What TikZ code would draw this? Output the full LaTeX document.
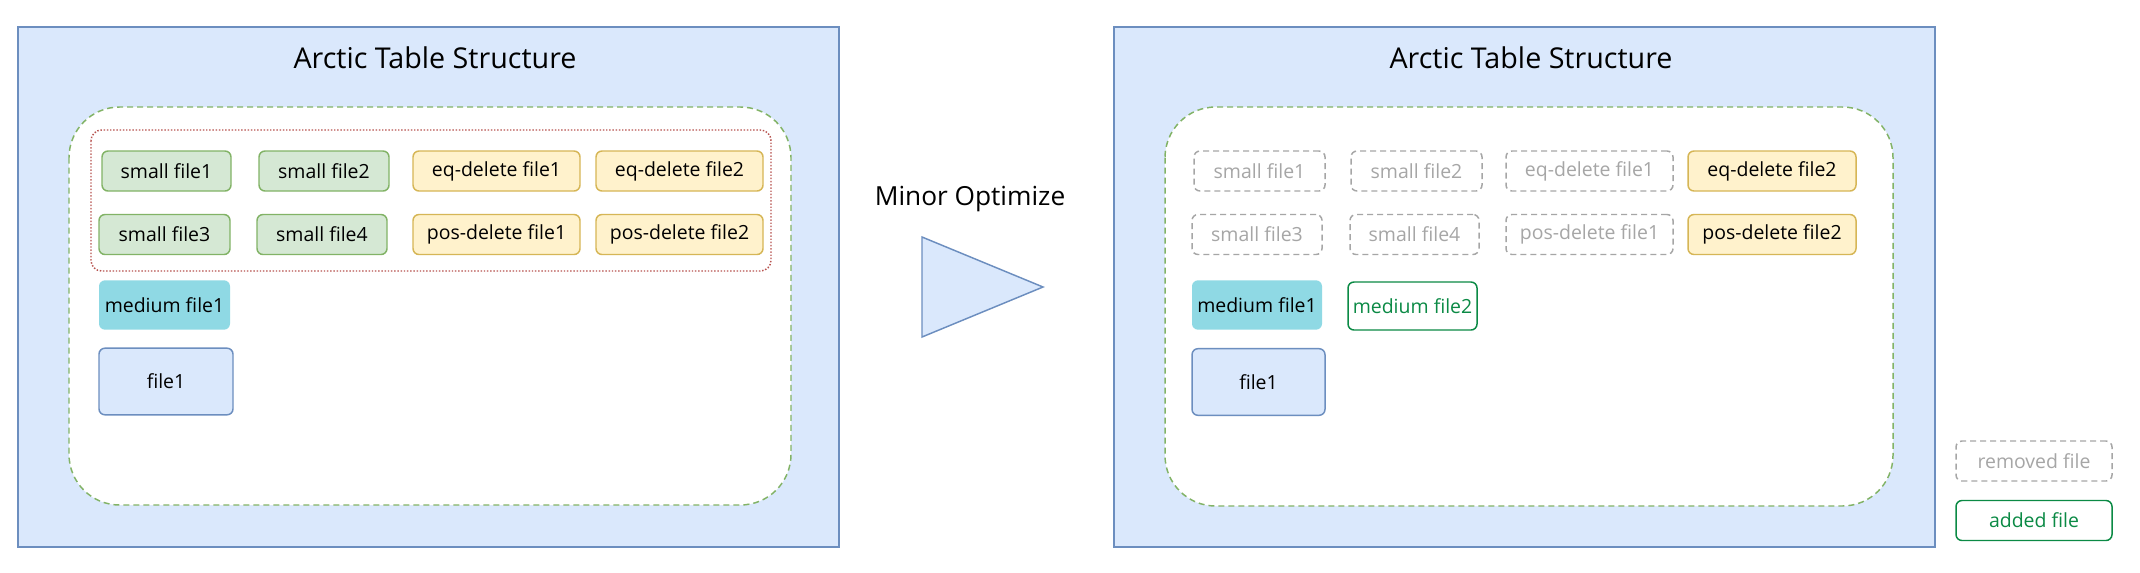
\documentclass[tikz,border=0pt]{standalone}
\usepackage{fontspec}
\setmainfont{Open Sans}
\definecolor{bluefill}{HTML}{DAE8FC}
\definecolor{bluedraw}{HTML}{6C8EBF}
\definecolor{greenfill}{HTML}{D5E8D4}
\definecolor{greendraw}{HTML}{82B366}
\definecolor{yellowfill}{HTML}{FFF2CC}
\definecolor{yellowdraw}{HTML}{D6B656}
\definecolor{reddraw}{HTML}{B85450}
\definecolor{medfill}{HTML}{8FD9E4}
\definecolor{grayline}{HTML}{A6A6A6}
\definecolor{addgreen}{HTML}{0B8A45}
\begin{document}
\begin{tikzpicture}[x=0.75pt,y=-0.75pt,
  filebox/.style={rectangle, rounded corners=4.5pt, line width=1.1pt, inner sep=0pt,
    font=\fontsize{14.6}{16}\selectfont, minimum width=#1*0.75pt, minimum height=30pt},
  smallf/.style={filebox=#1, fill=greenfill, draw=greendraw},
  delf/.style={filebox=#1, fill=yellowfill, draw=yellowdraw},
  medf/.style={filebox=#1, fill=medfill, minimum height=37pt},
  basef/.style={filebox=#1, fill=bluefill, draw=bluedraw, minimum height=50pt},
  removedf/.style={filebox=#1, fill=white, draw=grayline, text=grayline, dash pattern=on 4.5pt off 3pt},
  addedf/.style={filebox=#1, fill=white, draw=addgreen, text=addgreen},
  panel/.style={fill=bluefill, draw=bluedraw, line width=1.1pt},
  groupbox/.style={fill=white, draw=greendraw, line width=1.1pt, dash pattern=on 4.5pt off 3pt, rounded corners=38pt},
  compbox/.style={draw=reddraw, line width=1.1pt, dash pattern=on 1.1pt off 1.3pt, rounded corners=8pt},
  title/.style={font=\fontsize{21.5}{24}\selectfont, inner sep=0pt}
]
\useasboundingbox (0,0) rectangle (2140,572);

% ---------- left panel ----------
\draw[panel] (18,27) rectangle (839,547);
\node[title] (t1) at (435,58) {Arctic Table Structure};
\draw[groupbox] (69,107) rectangle (791,505);
\draw[compbox] (91,130) rectangle (771,271);

\node[smallf=129] (ls1) at (166.5,171) {small file1};
\node[smallf=130] (ls2) at (324,171) {small file2};
\node[delf=167] (leq1) at (496.5,171) {eq-delete file1};
\node[delf=167] (leq2) at (679.5,171) {eq-delete file2};
\node[smallf=131] (ls3) at (164.5,234.5) {small file3};
\node[smallf=130] (ls4) at (322,234.5) {small file4};
\node[delf=167] (lpos1) at (496.5,234.5) {pos-delete file1};
\node[delf=167] (lpos2) at (679.5,234.5) {pos-delete file2};
\node[medf=131] (lm1) at (164.5,305) {medium file1};
\node[basef=134] (lf1) at (166,381.5) {file1};

% ---------- arrow ----------
\node[font=\fontsize{19.7}{22}\selectfont, inner sep=0pt] (op) at (970,199) {Minor Optimize};
\draw[fill=bluefill, draw=bluedraw, line width=1.1pt] (922,237) -- (1043,287) -- (922,337) -- cycle;

% ---------- right panel ----------
\draw[panel] (1114,27) rectangle (1935,547);
\node[title] (t2) at (1531,58) {Arctic Table Structure};
\draw[groupbox] (1165,107) rectangle (1893,506);

\node[removedf=131] (rs1) at (1259.5,171) {small file1};
\node[removedf=131] (rs2) at (1416.5,171) {small file2};
\node[removedf=167] (req1) at (1589.5,171) {eq-delete file1};
\node[delf=168] (req2) at (1772,171) {eq-delete file2};
\node[removedf=130] (rs3) at (1257,234.5) {small file3};
\node[removedf=129] (rs4) at (1414.5,234.5) {small file4};
\node[removedf=167] (rpos1) at (1589.5,234.5) {pos-delete file1};
\node[delf=168] (rpos2) at (1772,234.5) {pos-delete file2};
\node[medf=130] (rm1) at (1257,305) {medium file1};
\node[addedf=129, minimum height=36pt] (rm2) at (1412.5,306) {medium file2};
\node[basef=133] (rf1) at (1258.5,382) {file1};

% ---------- legend ----------
\node[removedf=156] (legrem) at (2034,461) {removed file};
\node[addedf=156] (legadd) at (2034,520.5) {added file};
\end{tikzpicture}
\end{document}
